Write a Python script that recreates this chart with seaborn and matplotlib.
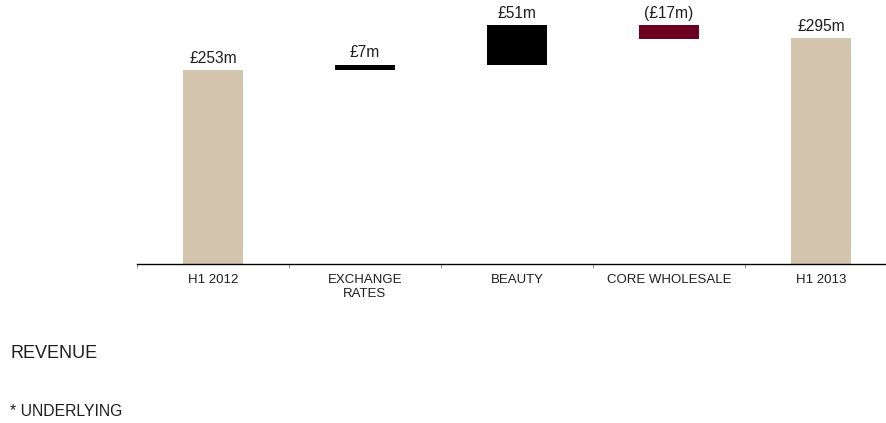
import matplotlib
matplotlib.use("Agg")
import matplotlib.pyplot as plt
import numpy as np
import pandas as pd
import seaborn as sns

# Revenue bridge, H1 2012 -> H1 2013 (GBP millions)
categories = ["H1 2012", "EXCHANGE\nRATES", "BEAUTY", "CORE WHOLESALE", "H1 2013"]
changes = [253, 7, 51, -17, 295]
is_total = [True, False, False, False, True]
value_labels = ["£253m", "£7m", "£51m", "(£17m)", "£295m"]

TAN = "#D2C4AD"
BLACK = "#000000"
MAROON = "#6B0021"
TEXT = "#1E1E1E"

# running totals give the floating bars their base
bottoms = []
running = 0
for val, total in zip(changes, is_total):
    if total:
        bottoms.append(0)
        running = val
    else:
        bottoms.append(running)
        running += val
colors = [TAN if t else (BLACK if v >= 0 else MAROON) for v, t in zip(changes, is_total)]

df = pd.DataFrame({"category": categories, "change": changes, "base": bottoms})

sns.set_theme(style="white")
plt.rcParams["font.family"] = ["Liberation Sans", "DejaVu Sans"]

W, H = 886, 423
fig = plt.figure(figsize=(W / 100, H / 100), dpi=100)
ymax = 340
px_per_unit = 0.767
ax = fig.add_axes([137 / W, 159 / H, 760 / W, ymax * px_per_unit / H])

sns.barplot(data=df, x="category", y="change", order=categories, bottom=df["base"].values,
            color=TAN, width=0.4, errorbar=None, ax=ax, linewidth=0, saturation=1)
for patch, c in zip(ax.patches, colors):
    patch.set_facecolor(c)
    patch.set_edgecolor(c)

ax.set_ylim(0, ymax)
ax.set_xlim(-0.5, len(categories) - 0.5)

for i, (b, v, lab) in enumerate(zip(bottoms, changes, value_labels)):
    top = max(b, b + v)
    ax.annotate(lab, (i, top), xytext=(0, 3), textcoords="offset points",
                ha="center", va="bottom", fontsize=11.2, color=TEXT)

sns.despine(ax=ax, left=True, top=True, right=True)
ax.spines["bottom"].set_color("#000000")
ax.spines["bottom"].set_linewidth(1.0)
ax.set_yticks([])
ax.set_xlabel("")
ax.set_ylabel("")
ax.set_xticks(range(len(categories)))
ax.set_xticklabels(categories, fontsize=9.5, color=TEXT, linespacing=1.25)
ax.tick_params(axis="x", which="major", bottom=True, length=0, pad=7)
ax.set_xticks(np.arange(-0.5, len(categories), 1.0), minor=True)
ax.tick_params(axis="x", which="minor", bottom=True, length=3, width=0.8,
               color="#9A9A9A", direction="out")
ax.grid(False)

fig.text(10 / W, 1 - 353 / H, "REVENUE", fontsize=13, color=TEXT, va="center", ha="left")
fig.text(10 / W, 1 - 411.5 / H, "* UNDERLYING", fontsize=11.3, color=TEXT, va="center", ha="left")

fig.savefig("out.png", dpi=100)
